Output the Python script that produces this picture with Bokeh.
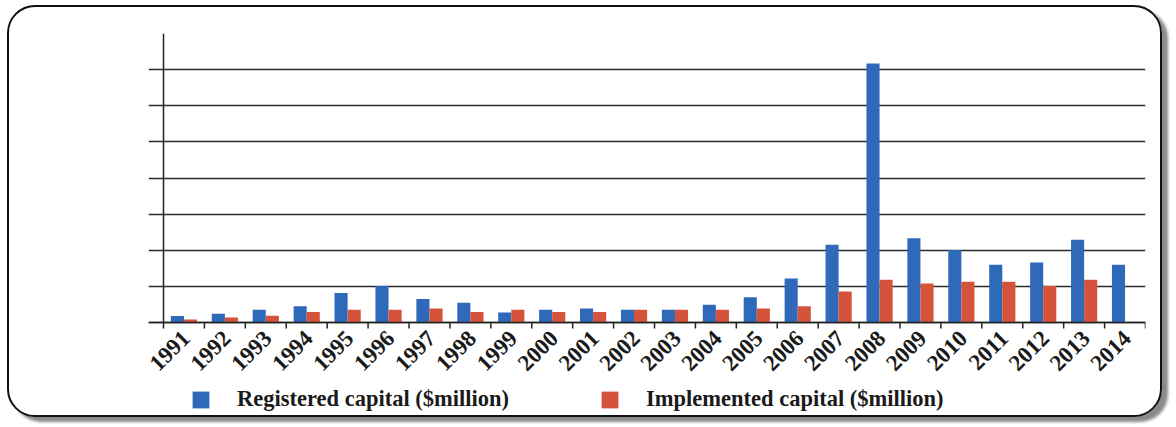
import math
from bokeh.plotting import figure
from bokeh.models import (FixedTicker, Range1d, Legend, LegendItem, ColumnDataSource,
                          InlineStyleSheet, Span)
from bokeh.core.properties import value
from bokeh.transform import dodge
from bokeh.embed import file_html
from bokeh.resources import INLINE

# Foreign direct investment by year (values as labelled on the axis)
years = [1991, 1992, 1993, 1994, 1995, 1996, 1997, 1998, 1999, 2000, 2001, 2002,
         2003, 2004, 2005, 2006, 2007, 2008, 2009, 2010, 2011, 2012, 2013, 2014]
registered = [1800000, 2400000, 3500000, 4500000, 8200000, 10100000, 6500000, 5500000,
              2800000, 3500000, 3900000, 3500000, 3500000, 4900000, 7000000, 12200000,
              21500000, 71700000, 23300000, 20100000, 16000000, 16600000, 22900000, 16000000]
implemented = [800000, 1400000, 1900000, 2900000, 3500000, 3500000, 3900000, 2900000,
               3500000, 2900000, 2900000, 3500000, 3500000, 3500000, 3900000, 4500000,
               8600000, 11800000, 10800000, 11300000, 11300000, 10100000, 11800000, 0]
y_ticks = [0, 10000000, 20000000, 30000000, 40000000, 50000000, 60000000, 70000000, 80000000]
y_tick_labels = ["-", "10000,000", "20000,000", "30000,000", "40000,000",
                 "50000,000", "60000,000", "70000,000", "80000,000"]
series_names = ["Registered capital ($million)", "Implemented capital ($million)"]

BLUE = "#2F69BA"
RED = "#D4533A"
FONT = "Liberation Serif"
INK = "#1a1a1a"

Y_MAX = 80000000
PLOT_PX = 289          # pixel height of the 0..Y_MAX band
BELOW_PX = 98          # room under the zero line for year labels and legend
y_per_px = Y_MAX / PLOT_PX
CAT_PX = 982 / 24      # pixel width of one year slot
LEFT_PAD_PX = 15       # frame room left of the value axis for the first year label

n = len(years)
idx = list(range(n))
src = ColumnDataSource(dict(i=idx, reg=registered, imp=implemented,
                            year=[str(y) for y in years]))

# rounded card outline with a soft drop shadow, drawn over the canvas
card_css = InlineStyleSheet(css="""
.bk-Canvas::after {
  content: "";
  position: absolute;
  left: 7px; top: 5px;
  width: 1155px; height: 412px;
  border: 2.5px solid #111111;
  border-radius: 28px;
  box-shadow: 6px 5px 3px #8a8a8a;
  pointer-events: none;
  z-index: 10;
}
""")

p = figure(width=1176, height=427, output_backend="svg", toolbar_location=None,
           x_range=Range1d(-0.5 - LEFT_PAD_PX / CAT_PX, n - 0.5),
           y_range=Range1d(-BELOW_PX * y_per_px, Y_MAX),
           x_axis_location=None,
           min_border_left=163 - LEFT_PAD_PX, min_border_right=31,
           min_border_top=33, min_border_bottom=7,
           stylesheets=[card_css])
p.background_fill_color = "white"
p.border_fill_color = "white"
p.outline_line_color = None

# horizontal grid (only over the positive band)
p.xgrid.visible = False
p.ygrid.ticker = FixedTicker(ticks=y_ticks)
p.ygrid.grid_line_color = "#2b2b2b"
p.ygrid.grid_line_width = 1.5

bw = 0.32
r_reg = p.vbar(x=dodge("i", -bw / 2), top="reg", bottom=0, width=bw, source=src,
               fill_color=BLUE, line_color=None)
r_imp = p.vbar(x=dodge("i", bw / 2), top="imp", bottom=0, width=bw, source=src,
               fill_color=RED, line_color=None)

# category axis along the zero line: baseline, boundary ticks and rotated year labels
p.add_layout(Span(location=0, dimension="width", line_color="#222222", line_width=1.5))
bounds = [i - 0.5 for i in range(n + 1)]
p.segment(x0=bounds, y0=[0] * len(bounds), x1=bounds, y1=[-6 * y_per_px] * len(bounds),
          line_color="#222222", line_width=1.5)
p.text(x=dodge("i", 0.05), y=0, text="year", source=src, angle=math.pi / 4,
       y_offset=12, text_align="right", text_baseline="middle",
       text_font=value(FONT), text_font_size="23px", text_font_style="bold",
       text_color=INK)

# value axis pinned to the left edge of the first year slot
p.yaxis.fixed_location = -0.5
p.yaxis.ticker = FixedTicker(ticks=y_ticks)
p.yaxis.bounds = (0, Y_MAX)
p.yaxis.major_label_overrides = dict(zip(y_ticks, y_tick_labels))
p.yaxis.axis_line_color = "#222222"
p.yaxis.axis_line_width = 1.5
p.yaxis.major_tick_out = 0
p.yaxis.major_tick_in = 0
p.yaxis.minor_tick_line_color = None
p.yaxis.major_label_standoff = 26
p.yaxis.major_label_text_font = FONT
p.yaxis.major_label_text_font_size = "24px"
p.yaxis.major_label_text_font_style = "bold"
p.yaxis.major_label_text_color = INK

# legend row along the bottom of the card
legend = Legend(items=[LegendItem(label=series_names[0], renderers=[r_reg]),
                       LegendItem(label=series_names[1], renderers=[r_imp])],
                orientation="horizontal", location=(27 + LEFT_PAD_PX, 8),
                padding=0, margin=0, spacing=90, label_standoff=26,
                glyph_width=21, glyph_height=21,
                border_line_color=None, background_fill_alpha=0,
                label_text_font=FONT, label_text_font_size="22.5px",
                label_text_font_style="bold", label_text_color=INK)
p.add_layout(legend, "center")

open("out.html", "w").write(file_html(p, INLINE))
